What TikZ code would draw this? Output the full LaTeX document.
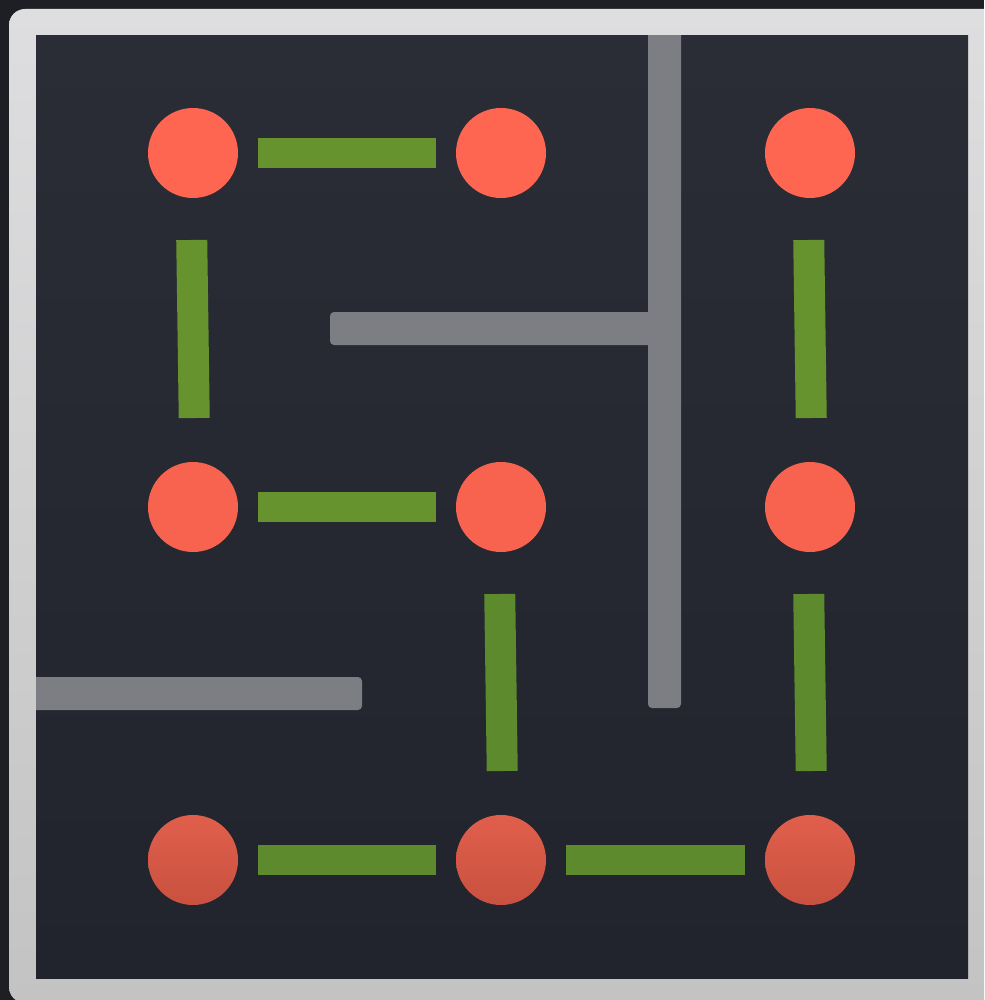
\documentclass[tikz,border=0pt]{standalone}
\usetikzlibrary{calc}
\definecolor{outerdark}{HTML}{1E1F24}
\definecolor{frametop}{HTML}{DEDEE0}
\definecolor{framebot}{HTML}{C3C3C3}
\definecolor{boardtop}{HTML}{2A2D36}
\definecolor{boardbot}{HTML}{21242C}
\definecolor{wallgray}{HTML}{7C7E84}
\definecolor{dotred}{HTML}{FF6651}
\definecolor{dotredmid}{HTML}{F8634F}
\definecolor{dotredlowtop}{HTML}{E05F4C}
\definecolor{dotredlowbot}{HTML}{C9513F}
\definecolor{bargreen}{HTML}{67932F}
\definecolor{bargreenlow}{HTML}{5C8A2D}
\tikzset{
  dot/.style={circle, minimum size=90pt, inner sep=0pt, outer sep=0pt, fill=dotred},
  hbar/.style={line width=30pt, bargreen, shorten <=65pt, shorten >=65pt},
  vbar/.style={line width=31pt, bargreen, shorten <=87pt, shorten >=89pt},
  wall/.style={fill=wallgray, rounded corners=4pt}
}
\begin{document}
\begin{tikzpicture}[x=1pt,y=-1pt]
\useasboundingbox (0,0) rectangle (984,1000);
% outer background and frame
\fill[outerdark] (0,0) rectangle (984,1000);
\begin{scope}
\clip (0,0) rectangle (984,1000);
\shade[top color=frametop, bottom color=framebot, rounded corners=16pt] (9,9) rectangle (1010,1003);
\end{scope}
% board
\shade[top color=boardtop, bottom color=boardbot] (36,36) rectangle (968,978);
% walls, clipped to the board
\begin{scope}
\clip (36,36) rectangle (968,978);
\fill[wall] (330,312) rectangle (660,345);
\fill[wall] (648,20) rectangle (681,708);
\fill[wall] (20,677) rectangle (362,710);
\end{scope}
% dots
\node[dot] (c11) at (193,153) {};
\node[dot] (c12) at (501,153) {};
\node[dot] (c13) at (810,153) {};
\node[dot, fill=dotredmid] (c21) at (193,507) {};
\node[dot, fill=dotredmid] (c22) at (501,507) {};
\node[dot, fill=dotredmid] (c23) at (810,507) {};
\node[dot, fill=none, top color=dotredlowtop, bottom color=dotredlowbot] (c31) at (193,860) {};
\node[dot, fill=none, top color=dotredlowtop, bottom color=dotredlowbot] (c32) at (501,860) {};
\node[dot, fill=none, top color=dotredlowtop, bottom color=dotredlowbot] (c33) at (810,860) {};
% bars
\draw[hbar] (c11.center) -- (c12.center);
\draw[hbar] (c21.center) -- (c22.center);
\draw[hbar, bargreenlow] (c31.center) -- (c32.center);
\draw[hbar, bargreenlow] (c32.center) -- (c33.center);
\draw[vbar] ([xshift=-2.5pt]c11.center) -- ([xshift=2.5pt]c21.center);
\draw[vbar] ([xshift=-2.5pt]c13.center) -- ([xshift=2.5pt]c23.center);
\draw[vbar, bargreenlow] ([xshift=-2.5pt]c22.center) -- ([xshift=2.5pt]c32.center);
\draw[vbar, bargreenlow] ([xshift=-2.5pt]c23.center) -- ([xshift=2.5pt]c33.center);
\end{tikzpicture}
\end{document}
